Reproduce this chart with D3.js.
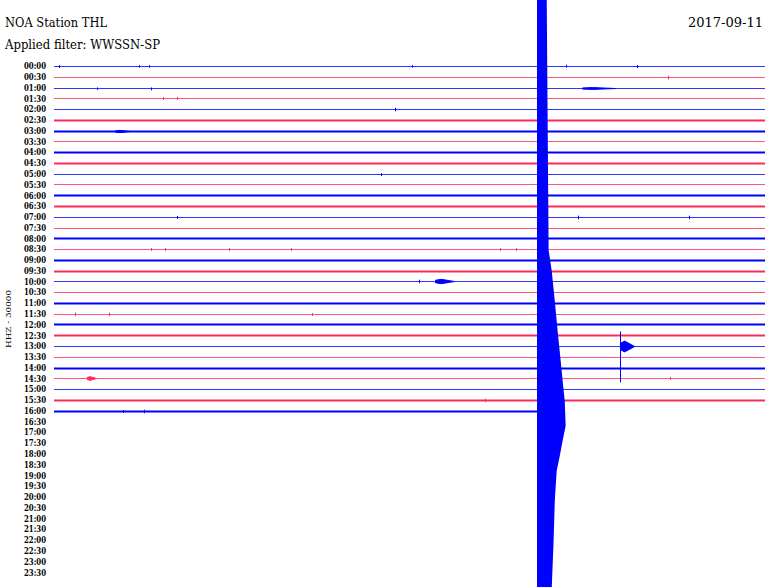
<!DOCTYPE html>
<html>
<head>
<meta charset="utf-8">
<script src="https://cdn.jsdelivr.net/npm/d3@7/dist/d3.min.js"></script>
<style>
body { margin: 0; background: #fff; }
svg { display: block; background: #fff; }
text { font-family: "DejaVu Serif", "Liberation Serif", serif; fill: #000; }
</style>
</head>
<body>
<svg width="770" height="587"></svg>
<script>
// header texts
var station = "NOA Station THL",
	filterText = "Applied filter: WWSSN-SP",
	dayText = "2017-09-11",
	channelText = "HHZ - 30000";

// one row = 30 minutes
var rowLabels = ["00:00","00:30","01:00","01:30","02:00","02:30","03:00","03:30",
	"04:00","04:30","05:00","05:30","06:00","06:30","07:00","07:30",
	"08:00","08:30","09:00","09:30","10:00","10:30","11:00","11:30",
	"12:00","12:30","13:00","13:30","14:00","14:30","15:00","15:30",
	"16:00","16:30","17:00","17:30","18:00","18:30","19:00","19:30",
	"20:00","20:30","21:00","21:30","22:00","22:30","23:00","23:30"];

// background noise amplitude per recorded row (counts)
var rowNoise = [1400,1400,1400,1400,1400,2200,2800,1400,
	2200,2800,1400,1400,2800,2800,1400,1400,
	2800,1400,2800,2800,1400,1400,2800,1400,
	2800,2800,1400,1400,3000,1400,1400,2800,
	2800];

// minutes recorded in each row (last row is cut)
var rowEnd = [30,30,30,30,30,30,30,30,30,30,30,30,30,30,30,30,
	30,30,30,30,30,30,30,30,30,30,30,30,30,30,30,30,20.38];

// small spikes: row, minute, up (counts), down (counts)
var spikes = [
	[0,0.2,4000,4000],[0,3.6,4000,3000],[0,4.0,4000,3000],[0,15.1,4000,3000],[0,21.6,5000,3000],[0,24.6,4000,4000],
	[1,25.9,5000,5000],
	[2,1.8,3000,4000],[2,4.1,3000,5000],
	[3,4.6,4000,4000],[3,5.2,4000,4000],
	[4,14.4,5000,5000],
	[10,13.8,4000,4000],
	[14,5.2,4000,4000],[14,22.1,5000,5000],[14,26.8,5000,5000],
	[17,4.1,4000,4000],[17,4.7,4000,4000],[17,7.4,4000,4000],[17,10.0,4000,4000],[17,18.8,4000,4000],[17,19.5,4000,4000],
	[20,15.4,5000,5000],
	[23,0.9,5000,5000],[23,2.3,5000,5000],[23,10.9,4000,4000],
	[26,23.9,42000,100000],
	[29,1.5,5000,5000],[29,26.0,4000,4000],
	[31,18.2,5000,5000],
	[32,2.9,4000,4000],[32,3.8,5000,5000]
];

// short wave trains: row, start minute, end minute, amplitude (counts)
var bursts = [
	[2,22.3,23.7,2600],
	[6,2.6,3.2,3200],
	[20,16.1,16.9,6000],
	[26,23.9,24.5,15000],
	[29,1.4,1.8,5000]
];

// large quake on the last row: start minute, envelope (row position, right edge minute)
var quakeStart = 20.38;
var quakeEnvelope = [
	[-6.2,20.79],[17.1,20.87],[19.0,21.00],[21.8,21.13],[24.6,21.25],
	[27.4,21.38],[29.2,21.46],[31.1,21.55],[33.4,21.59],[34.8,21.46],
	[36.2,21.34],[37.6,21.21],[40.4,21.13],[44.1,21.08],[48.6,21.00]
];

var svg = d3.select("svg");
var x = d3.scaleLinear().domain([0, 30]).range([54, 765]);
var y = d3.scaleLinear().domain([0, 47]).range([66, 572.2]);
var amp = d3.scaleLinear().domain([0, 30000]).range([0, 10.77]);
var rowColor = function(i) { return i % 2 == 0 ? "#0000ff" : "#ff2a5c"; };
var rowY = function(i) { return Math.round(y(i)) + 0.5; };

// header
svg.append("text").attr("x", 5).attr("y", 27).attr("font-size", 12.5)
	.attr("textLength", 102).attr("lengthAdjust", "spacingAndGlyphs").text(station);
svg.append("text").attr("x", 5).attr("y", 49).attr("font-size", 12.5)
	.attr("textLength", 155).attr("lengthAdjust", "spacingAndGlyphs").text(filterText);
svg.append("text").attr("x", 688).attr("y", 27).attr("font-size", 12.5)
	.attr("textLength", 75).attr("lengthAdjust", "spacingAndGlyphs").text(dayText);

// channel label
svg.append("text")
	.attr("transform", "translate(11,319) rotate(-90)")
	.attr("text-anchor", "middle").attr("font-size", 8)
	.attr("textLength", 58).attr("lengthAdjust", "spacingAndGlyphs")
	.text(channelText);

// time labels
svg.append("g").selectAll("text")
	.data(rowLabels).enter().append("text")
	.attr("x", 46).attr("y", function(d, i) { return y(i) + 3.3; })
	.attr("text-anchor", "end").attr("font-size", 8.4).attr("font-weight", "bold")
	.attr("textLength", 22).attr("lengthAdjust", "spacingAndGlyphs")
	.text(function(d) { return d; });

// traces
var traces = svg.append("g");
traces.selectAll("line.trace")
	.data(rowNoise).enter().append("line")
	.attr("class", "trace")
	.attr("x1", x(0))
	.attr("x2", function(d, i) { return x(rowEnd[i]); })
	.attr("y1", function(d, i) { return rowY(i); })
	.attr("y2", function(d, i) { return rowY(i); })
	.attr("stroke", function(d, i) { return rowColor(i); })
	.attr("stroke-opacity", function(d) { return d < 2000 ? 0.8 : 1; })
	.attr("stroke-width", function(d) { return Math.max(1, Math.round(2 * amp(d))); });

traces.selectAll("path.burst")
	.data(bursts).enter().append("path")
	.attr("class", "burst")
	.attr("d", function(d) {
		var r = rowY(d[0]), a = amp(d[3]), x0 = x(d[1]), x1 = x(d[2]);
		var xm = x0 + (x1 - x0) * 0.3;
		return "M" + x0 + "," + (r - a * 0.6) + "L" + xm + "," + (r - a) + "L" + x1 + "," + r +
			"L" + xm + "," + (r + a) + "L" + x0 + "," + (r + a * 0.6) + "Z";
	})
	.attr("fill", function(d) { return rowColor(d[0]); })
	.attr("stroke", function(d) { return rowColor(d[0]); })
	.attr("stroke-width", 1);

traces.selectAll("line.spike")
	.data(spikes).enter().append("line")
	.attr("class", "spike")
	.attr("x1", function(d) { return Math.round(x(d[1])) + 0.5; })
	.attr("x2", function(d) { return Math.round(x(d[1])) + 0.5; })
	.attr("y1", function(d) { return rowY(d[0]) - amp(d[2]); })
	.attr("y2", function(d) { return rowY(d[0]) + amp(d[3]); })
	.attr("stroke", function(d) { return rowColor(d[0]); })
	.attr("stroke-width", 1);

// quake envelope
var quakeArea = d3.area()
	.y(function(d) { return y(d[0]); })
	.x0(x(quakeStart))
	.x1(function(d) { return x(d[1]); });
traces.append("path")
	.datum(quakeEnvelope)
	.attr("d", quakeArea)
	.attr("fill", "#0000ff");
</script>
</body>
</html>
